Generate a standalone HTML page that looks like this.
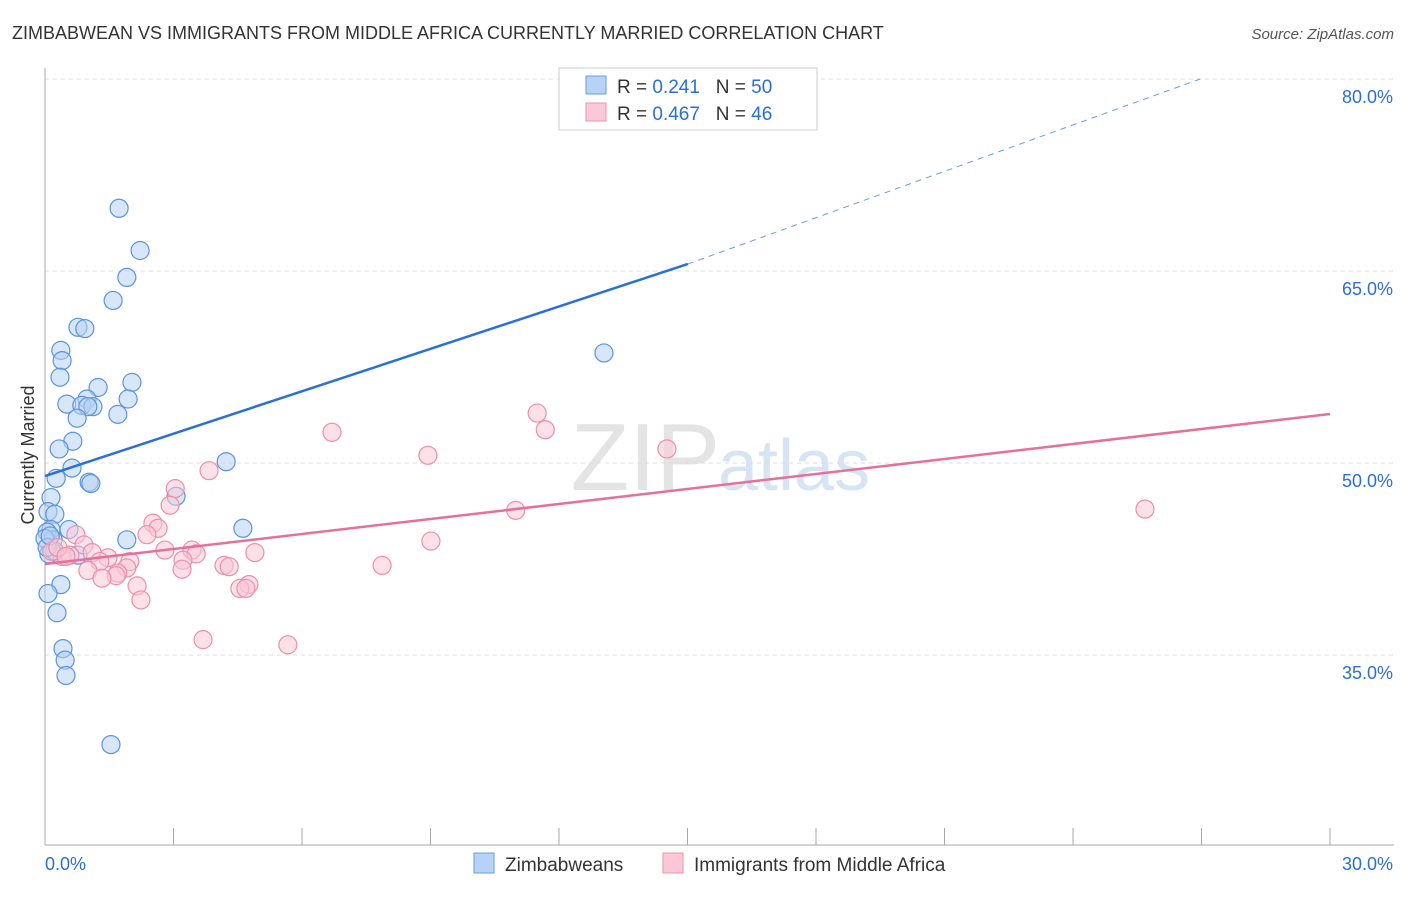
<!DOCTYPE html>
<html><head><meta charset="utf-8"><style>
body{margin:0;background:#fff;font-family:"Liberation Sans",sans-serif}
svg text{font-family:"Liberation Sans",sans-serif}
</style></head><body>
<svg id="c" width="1406" height="892">
<text x="12" y="39" font-size="18" fill="#333">ZIMBABWEAN VS IMMIGRANTS FROM MIDDLE AFRICA CURRENTLY MARRIED CORRELATION CHART</text>
<text x="1394" y="39" font-size="15" fill="#555" font-style="italic" text-anchor="end">Source: ZipAtlas.com</text>
<text x="720" y="490" font-size="96" fill="#e4e4e4" text-anchor="end" font-family="Liberation Serif">ZIP</text>
<text x="718" y="490" font-size="72" fill="#d6e4f4">atlas</text>
<text transform="translate(34,455) rotate(-90)" font-size="18" fill="#333" text-anchor="middle">Currently Married</text>
<g id="grid"></g><g id="pts"></g><g id="trend"></g>
<g>
<rect x="559" y="68" width="258" height="62" fill="#fff" stroke="#ccc"/>
<rect x="586" y="76" width="20" height="18" fill="#b7d2f4" stroke="#6a9ee0"/>
<rect x="586" y="103" width="20" height="18" fill="#fac8d6" stroke="#ec93ae"/>
<text x="617" y="93" font-size="19" fill="#333">R = <tspan fill="#2a6fd6">0.241</tspan>&#160;&#160;&#160;N = <tspan fill="#2a6fd6">50</tspan></text>
<text x="617" y="120" font-size="19" fill="#333">R = <tspan fill="#2a6fd6">0.467</tspan>&#160;&#160;&#160;N = <tspan fill="#2a6fd6">46</tspan></text>
</g>
<g>
<rect x="474" y="853" width="20" height="20" fill="#b7d2f4" stroke="#6a9ee0"/>
<text x="505" y="871" font-size="19" fill="#333">Zimbabweans</text>
<rect x="663" y="853" width="20" height="20" fill="#fac8d6" stroke="#ec93ae"/>
<text x="694" y="871" font-size="19" fill="#333">Immigrants from Middle Africa</text>
</g>
</svg>
<script>
const xTicks=[0,3,6,9,12,15,18,21,24,27,30];
const yTicks=[80,65,50,35];
const blueX=[1.73,2.22,1.91,1.59,0.77,0.93,0.37,0.40,0.35,1.24,2.03,0.98,1.94,0.51,0.86,1.12,1.00,1.70,0.75,0.65,0.33,0.63,4.23,0.26,1.03,1.07,0.14,0.07,0.23,4.62,0.14,0.56,0.05,0.19,1.91,0.00,0.77,0.37,0.07,0.28,0.42,0.47,0.49,1.54,3.06,13.05,0.09,0.23,0.05,0.12];
const blueY=[69.9,66.6,64.5,62.7,60.6,60.5,58.8,58.0,56.7,55.9,56.3,55.0,55.0,54.6,54.5,54.4,54.4,53.8,53.5,51.7,51.1,49.6,50.1,48.8,48.5,48.4,47.3,46.2,46.0,44.9,44.8,44.8,44.6,44.0,44.0,44.1,42.8,40.5,39.8,38.3,35.5,34.6,33.4,28.0,47.4,58.6,42.9,43.1,43.4,44.3];
const pinkX=[11.49,6.70,11.68,8.94,14.52,3.83,3.04,2.92,10.99,25.68,2.52,2.64,2.38,0.72,9.01,0.91,2.80,3.43,4.90,3.53,1.10,0.40,0.58,1.47,1.98,3.22,1.28,7.87,4.18,4.30,1.91,1.00,1.70,1.66,1.33,3.20,4.76,4.55,4.69,2.15,2.24,3.69,5.67,0.16,0.30,0.49];
const pinkY=[53.9,52.4,52.6,50.6,51.1,49.4,48.0,46.7,46.3,46.4,45.3,44.9,44.4,44.4,43.9,43.6,43.2,43.2,43.0,42.9,43.0,42.7,42.8,42.6,42.3,42.4,42.3,42.0,42.0,41.9,41.8,41.6,41.4,41.2,41.0,41.7,40.5,40.2,40.2,40.4,39.3,36.2,35.8,43.1,43.4,42.7];
const blueTrend=[[0,48.98],[15.01,65.55]];
const blueDash=[[15.01,65.55],[26.97,80.0]];
const pinkTrend=[[0,42.11],[30,53.83]];
const NS="http://www.w3.org/2000/svg";
const sx=v=>45+v*(1285/30), sy=v=>79+(80-v)*12.8;
function mk(t,a,p){const e=document.createElementNS(NS,t);for(const k in a)e.setAttribute(k,a[k]);document.getElementById(p).appendChild(e);return e;}
yTicks.forEach(v=>{
 const l=mk('line',{x1:45,x2:1394,y1:sy(v),y2:sy(v),stroke:'#ddd','stroke-dasharray':'4,4'},'grid');
 
 
 const t=mk('text',{x:1393,y:sy(v)+24,'font-size':18,fill:'#2a6fd6','text-anchor':'end'},'grid');t.textContent=v.toFixed(1)+'%';
 
 
});
const ax=mk('line',{x1:45,x2:45,y1:68,y2:845,stroke:'#aaa'},'grid');


const bx=mk('line',{x1:45,x2:1394,y1:845,y2:845,stroke:'#aaa'},'grid');


xTicks.forEach(v=>{const l=mk('line',{x1:sx(v),x2:sx(v),y1:828,y2:845,stroke:'#aaa'},'grid');
 
 });
[[0,'start',45],[30,'end',1393]].forEach(([v,a,x])=>{const t=mk('text',{x:x,y:870,'font-size':18,fill:'#2a6fd6','text-anchor':a},'grid');t.textContent=v.toFixed(1)+'%';
 
 });
function pts(X,Y,f,s,n){X.forEach((x,i)=>{const c=mk('circle',{cx:sx(x),cy:sy(Y[i]),r:9,fill:f,'fill-opacity':0.55,stroke:s,'stroke-width':1.2},'pts');
 
 });}
pts(blueX,blueY,'#b7d2f4','#5b93dc','zimbabwean-point');
pts(pinkX,pinkY,'#fac8d6','#ec8fab','middle-africa-point');
function ln(p,s,w,d,n){const l=mk('line',{x1:sx(p[0][0]),y1:sy(p[0][1]),x2:sx(p[1][0]),y2:sy(p[1][1]),stroke:s,'stroke-width':w},'trend');if(d)l.setAttribute('stroke-dasharray',d);
 
 }
ln(blueTrend,'#2a70d6',2.5,null,'zimbabwean-trendline');
ln(blueDash,'#6a9ee0',1,'6,5','zimbabwean-trendline-extension');
ln(pinkTrend,'#e6709a',2.5,null,'middle-africa-trendline');
</script>
</body></html>
